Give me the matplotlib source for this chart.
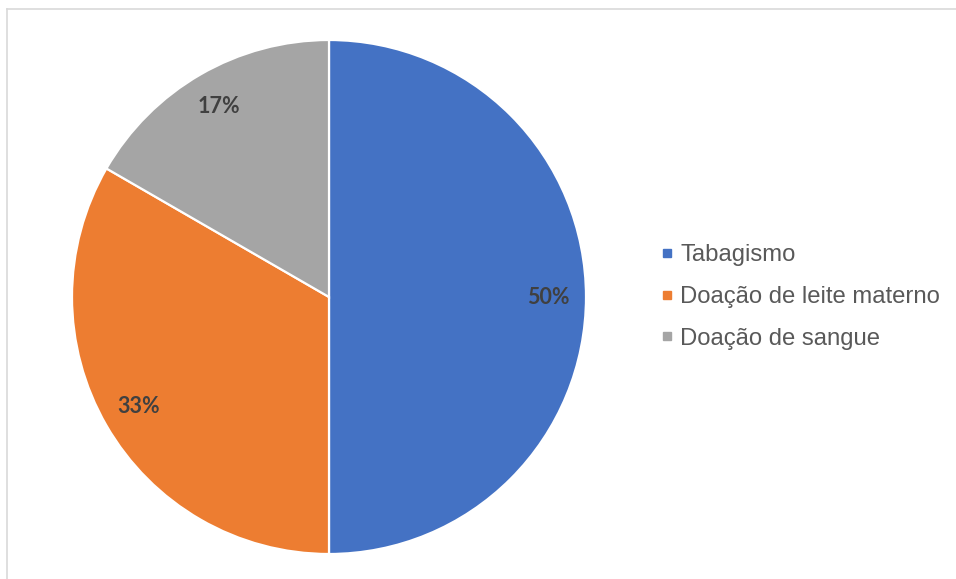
import matplotlib

matplotlib.use("Agg")
import matplotlib.pyplot as plt
from matplotlib.lines import Line2D

# Dados do gráfico
categorias = ["Tabagismo", "Doação de leite materno", "Doação de sangue"]
valores = [3, 2, 1]
cores = ["#4472C4", "#ED7D31", "#A5A5A5"]

W, H = 956, 579
fig = plt.figure(figsize=(W / 100, H / 100), dpi=100)
fig.patch.set_facecolor("white")

# Pie centre (329, 297) px, radius 257 px
cx, cy, r = 329, 297, 257
ax = fig.add_axes([(cx - r) / W, (H - cy - r) / H, 2 * r / W, 2 * r / H])
wedges, texts, autotexts = ax.pie(
    valores,
    colors=cores,
    startangle=90,
    counterclock=False,
    autopct="%.0f%%",
    pctdistance=0.855,
    radius=1.0,
    wedgeprops=dict(edgecolor="white", linewidth=1.6),
    textprops=dict(family=["Lato", "DejaVu Sans"], fontweight="bold",
                   fontsize=15.5, color="#404040"),
)
ax.set_xlim(-1.0, 1.0)
ax.set_ylim(-1.0, 1.0)
ax.set_aspect("equal")

# Legenda
handles = [
    Line2D([], [], linestyle="none", marker="s", markersize=5.5,
           markerfacecolor=c, markeredgecolor=c)
    for c in cores
]
fig.legend(
    handles,
    categorias,
    loc="center left",
    bbox_to_anchor=(661 / W, 1 - 297 / H),
    frameon=False,
    prop=dict(family=["Liberation Sans", "DejaVu Sans"], size=17.2),
    labelcolor="#595959",
    handlelength=0.5,
    handletextpad=0.3,
    labelspacing=0.82,
    borderpad=0,
    borderaxespad=0,
)

# Chart-area border (top and left visible)
fig.add_artist(Line2D([7 / W, 1.0], [1 - 9 / H, 1 - 9 / H],
                      transform=fig.transFigure, color="#D9D9D9", linewidth=1.2))
fig.add_artist(Line2D([7 / W, 7 / W], [0.0, 1 - 9 / H],
                      transform=fig.transFigure, color="#D9D9D9", linewidth=1.2))

fig.savefig("out.png", dpi=100)
